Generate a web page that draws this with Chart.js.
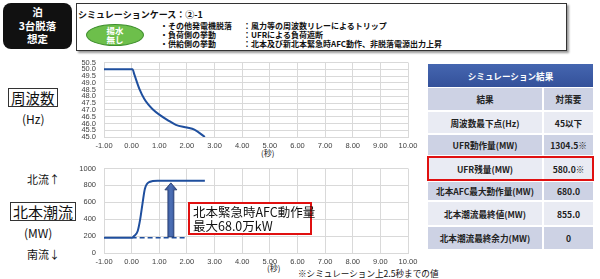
<!DOCTYPE html>
<html><head><meta charset="utf-8">
<script src="https://cdn.jsdelivr.net/npm/chart.js@4/dist/chart.umd.min.js"></script>
<style>
html,body{margin:0;padding:0;background:#fff;}
body{width:600px;height:279px;position:relative;overflow:hidden;font-family:"Noto Sans CJK JP",sans-serif;color:#111;}
.abs{position:absolute;white-space:nowrap;}
#blk{left:3px;top:3px;width:69px;height:46px;background:#111;border-radius:8px;color:#fff;font-weight:bold;font-size:10.5px;line-height:13.5px;text-align:center;padding-top:2px;box-sizing:border-box;}
#hdr{left:76px;top:3px;width:491px;height:48px;border:1px solid #333;box-shadow:2px 2px 2px #999;box-sizing:border-box;}
.b{font-weight:bold;font-size:8px;line-height:10px;}
#ell{left:86px;top:24px;width:58px;height:22px;border-radius:50%;background:#6dbf4b;border:1px solid #3f8f2f;color:#fff;font-weight:bold;font-size:8.5px;line-height:9px;text-align:center;box-sizing:border-box;padding-top:1px;}
.lbox{border:1px solid #333;padding:0 2px;line-height:17px;}
canvas{position:absolute;}
.cell{position:absolute;font-weight:bold;font-size:8.6px;color:#222;display:flex;align-items:center;justify-content:center;}
</style></head><body>
<div id="blk" class="abs">泊<br>3台脱落<br>想定</div>
<div id="hdr" class="abs"></div>
<div class="abs b" style="left:78px;top:10px;font-size:9px;">シミュレーションケース：②-1</div>
<div id="ell" class="abs">揚水<br>無し</div>
<div class="abs b" style="left:160px;top:21px;">・その他発電機脱落</div>
<div class="abs b" style="left:160px;top:30px;">・負荷側の挙動</div>
<div class="abs b" style="left:160px;top:39px;">・供給側の挙動</div>
<div class="abs b" style="left:243px;top:21px;">：風力等の周波数リレーによるトリップ</div>
<div class="abs b" style="left:243px;top:30px;">：UFRによる負荷遮断</div>
<div class="abs b" style="left:243px;top:39px;">：北本及び新北本緊急時AFC動作、非脱落電源出力上昇</div>

<div class="abs lbox" style="left:8px;top:88px;font-size:14.5px;">周波数</div>
<div class="abs" style="left:22px;top:110px;font-size:12px;">(Hz)</div>
<div class="abs" style="left:27px;top:171px;font-size:11px;">北流↑</div>
<div class="abs lbox" style="left:10px;top:202px;font-size:15px;">北本潮流</div>
<div class="abs" style="left:24px;top:224px;font-size:12px;">(MW)</div>
<div class="abs" style="left:27px;top:246px;font-size:11px;">南流↓</div>

<div class="abs" style="left:261px;top:147px;font-size:8px;">(秒)</div>
<div class="abs" style="left:267px;top:262px;font-size:8px;">(秒)</div>
<div class="abs" style="left:298px;top:267px;font-size:8.6px;">※シミュレーション上2.5秒までの値</div>

<canvas id="c1" width="362" height="95" style="left:60px;top:57px;width:362px;height:95px;"></canvas>
<canvas id="c2" width="362" height="108" style="left:60px;top:160px;width:362px;height:108px;"></canvas>

<div class="abs" style="left:188px;top:202px;width:124px;height:33px;border:2px solid #e01010;box-sizing:border-box;background:#fff;font-size:12.5px;line-height:14px;padding:1px 0 0 3px;">北本緊急時AFC動作量<br>最大68.0万kW</div>

<div id="tbl"></div>
<script>
// ---- data ----
const timeFreq = [-1, 0, 0.03, 0.1, 0.28, 0.46, 0.6, 0.76, 1.0, 1.3, 1.6, 2.0, 2.27, 2.65];
const freq     = [50.0, 50.0, 50.0, 49.6, 48.55, 47.8, 47.4, 47.05, 46.65, 46.25, 45.9, 45.7, 45.55, 45.0];
const timeFlow = [-1, 0, 0.1, 0.22, 0.31, 0.4, 0.48, 0.64, 0.94, 1.5, 2.65];
const flow     = [180, 180, 205, 260, 400, 600, 760, 840, 855, 855, 855];
const baseTime = [0, 1.93];
const baseFlow = [180, 180];
const arrowTime = 1.42;
const arrowFrom = 190;
const arrowTo = 830;
const resultLabels = ['結果', '周波数最下点(Hz)', 'UFR動作量(MW)', 'UFR残量(MW)', '北本AFC最大動作量(MW)', '北本潮流最終値(MW)', '北本潮流最終余力(MW)'];
const resultValues = ['対策要', '45以下', '1304.5※', '580.0※', '680.0', '855.0', '0'];

// ---- table ----
const tbl = document.getElementById('tbl');
function cell(x,y,w,h,bg,txt,color){
  const d=document.createElement('div');d.className='cell';
  d.style.cssText+=`left:${x}px;top:${y}px;width:${w}px;height:${h}px;background:${bg};`+(color?`color:${color};`:'');
  d.textContent=txt;tbl.appendChild(d);
}
cell(428,64,165,23,'linear-gradient(#4566b0,#34519a)','シミュレーション結果','#fff');
const rowTops=[88,112,135,157,182,202,227];
const rowHs=[22,21,20,23,18,23,22];
for(let i=0;i<resultLabels.length;i++){
  const bg = (i%2===0)?'#cdd2e4':'#e9ebf3';
  cell(428,rowTops[i],114,rowHs[i],bg,resultLabels[i]);
  cell(544,rowTops[i],49,rowHs[i],bg,resultValues[i]);
}
const rb=document.createElement('div');rb.style.cssText='position:absolute;left:427px;top:156px;width:167px;height:25px;border:2px solid #e01010;box-sizing:border-box;';
tbl.appendChild(rb);

// ---- charts ----
Chart.defaults.font.family = '"Liberation Sans", sans-serif';
Chart.defaults.font.size = 7.5;
Chart.defaults.color = '#404040';
const blue = '#1f4f9e';
const grid = '#d9d9d9';
function xScale(){
  return {type:'linear',min:-1,max:10,
    ticks:{stepSize:1,autoSkip:false,maxRotation:0,padding:4,callback:v=>v.toFixed(2)},
    grid:{color:grid,drawTicks:false},border:{color:grid},
    afterFit:s=>{s.height=16;}};
}
function yScale(min,max,step,dec){
  return {min:min,max:max,
    ticks:{stepSize:step,autoSkip:false,padding:8,callback:v=>v.toFixed(dec)},
    grid:{color:grid,drawTicks:false},border:{color:grid},
    afterFit:s=>{s.width=44;}};
}
function baseOpts(){
  return {responsive:false,maintainAspectRatio:false,animation:false,
    plugins:{legend:{display:false},tooltip:{enabled:false}},
    elements:{point:{radius:0}},
    layout:{padding:{top:0,right:14,left:0,bottom:0}}};
}

const arrowPlugin = {id:'arrow',afterDatasetsDraw(chart){
  const {ctx,scales:{x,y}} = chart;
  const px = x.getPixelForValue(arrowTime);
  const yb = y.getPixelForValue(arrowFrom);
  const yt = y.getPixelForValue(arrowTo);
  const headH = 7, headW = 6, shaftW = 3;
  ctx.save();
  const g = ctx.createLinearGradient(px-headW,0,px+headW,0);
  g.addColorStop(0,'#2b4a8c');g.addColorStop(0.5,'#4d70b6');g.addColorStop(1,'#2b4a8c');
  ctx.beginPath();
  ctx.moveTo(px-shaftW,yb);ctx.lineTo(px-shaftW,yt+headH);ctx.lineTo(px-headW,yt+headH);
  ctx.lineTo(px,yt);ctx.lineTo(px+headW,yt+headH);ctx.lineTo(px+shaftW,yt+headH);
  ctx.lineTo(px+shaftW,yb);ctx.closePath();
  ctx.fillStyle=g;ctx.fill();ctx.strokeStyle='#1e3466';ctx.lineWidth=0.8;ctx.stroke();
  ctx.restore();
}};

function cfg1(){
  const o=baseOpts(); o.scales={x:xScale(),y:yScale(45,50.5,0.5,1)};
  return {type:'line',
    data:{datasets:[{data:timeFreq.map((t,i)=>({x:t,y:freq[i]})),borderColor:blue,borderWidth:2,cubicInterpolationMode:'monotone',fill:false}]},
    options:o};
}
function cfg2(){
  const o=baseOpts(); o.scales={x:xScale(),y:yScale(0,1000,200,0)};
  return {type:'line',
    data:{datasets:[
      {data:timeFlow.map((t,i)=>({x:t,y:flow[i]})),borderColor:blue,borderWidth:2,cubicInterpolationMode:'monotone',fill:false},
      {data:baseTime.map((t,i)=>({x:t,y:baseFlow[i]})),borderColor:blue,borderWidth:1.5,borderDash:[5,3],fill:false}
    ]},
    options:o, plugins:[arrowPlugin]};
}
function makeChart(id,cfg,L,T,R,B){
  const cv=document.getElementById(id);
  let ch=new Chart(cv,cfg());
  const ca=ch.chartArea;
  const w=Math.round(cv.width+(R-L)-(ca.right-ca.left));
  const h=Math.round(cv.height+(B-T)-(ca.bottom-ca.top));
  ch.destroy();
  cv.width=w;cv.height=h;cv.style.width=w+'px';cv.style.height=h+'px';
  ch=new Chart(cv,cfg());
  const c2=ch.chartArea;
  cv.style.left=Math.round(L-c2.left)+'px';cv.style.top=Math.round(T-c2.top)+'px';
  return ch;
}
makeChart('c1',cfg1,104,62,408,136);
makeChart('c2',cfg2,104,168,408,252);
</script>
</body></html>
